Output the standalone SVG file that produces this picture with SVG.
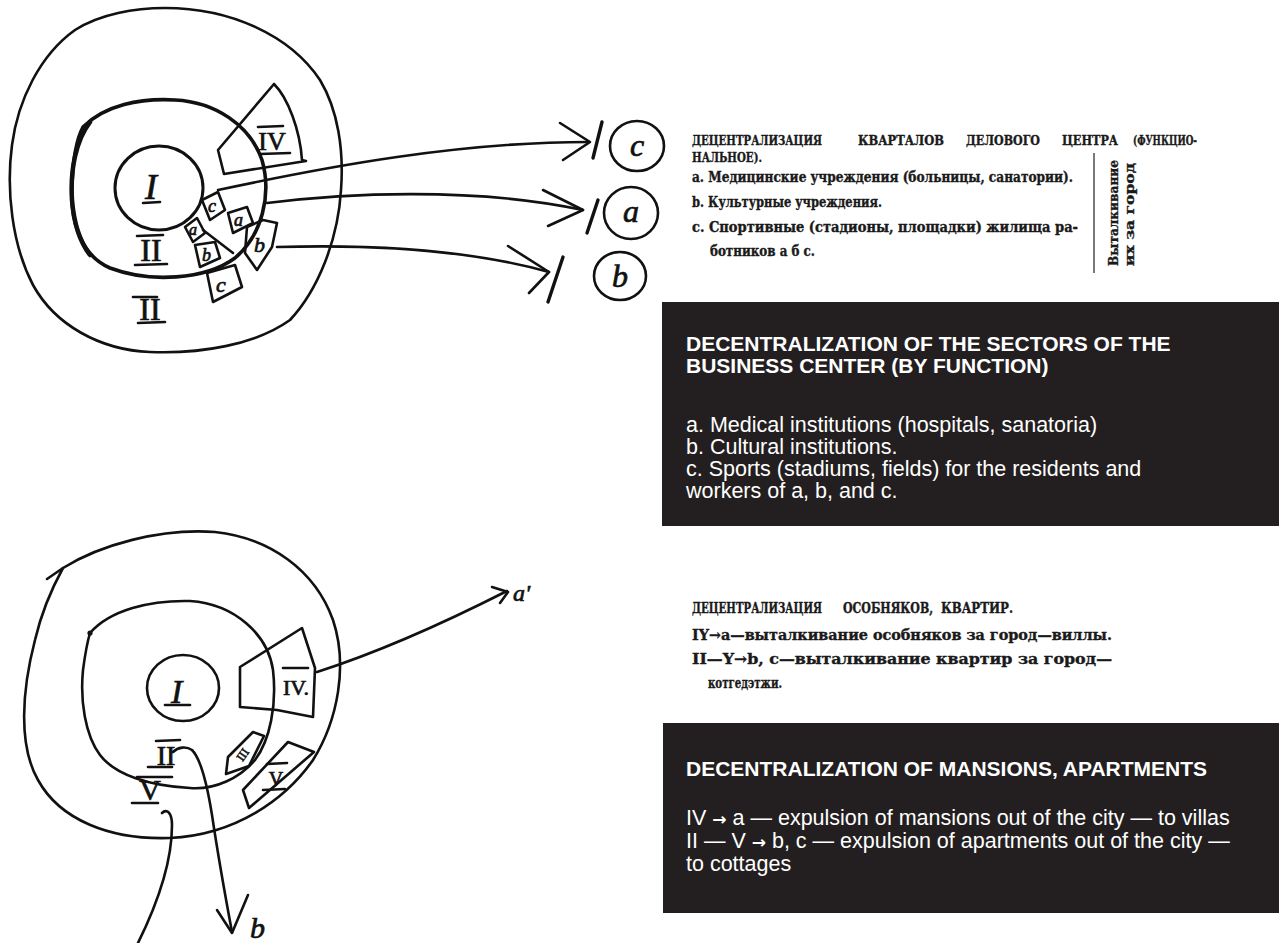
<svg xmlns="http://www.w3.org/2000/svg" width="1279" height="943" viewBox="0 0 1279 943">
<style>
.ink{fill:none;stroke:#111;stroke-width:2.6;stroke-linecap:round;stroke-linejoin:round}
.thick{stroke-width:3.6}
.slash{stroke-width:3.4}
.hand{font-family:"Liberation Serif","DejaVu Serif",serif;font-style:italic;fill:#111;stroke:#111;stroke-width:0.7}
.num{font-family:"Liberation Serif","DejaVu Serif",serif;fill:#111;text-anchor:middle;stroke:#111;stroke-width:0.7}
.ru{font-family:"DejaVu Serif","Liberation Serif",serif;font-stretch:condensed;font-weight:bold;fill:#1a1a1a;stroke:#1a1a1a;stroke-width:0.35}
.panel{fill:#231f20}
.en{font-family:"Liberation Sans",Arial,sans-serif;fill:#fff;font-size:21.5px}
.enb{font-weight:bold;font-size:21px}
.arr{font-family:"DejaVu Sans",sans-serif;font-weight:bold;font-size:17px}
</style>
<rect width="1279" height="943" fill="#fff"/>

<g id="top-diagram">
  <path class="ink" d="M165,8 C230,8 290,35 320,80 C338,110 344,150 341,190 C338,240 318,290 290,320 C255,345 200,354 150,352 C100,350 55,325 33,285 C12,245 6,190 12,145 C18,100 40,55 75,30 C100,14 135,8 165,8 Z"/>
  <path class="ink thick" d="M83,127 C105,105 140,98 175,100 C215,102 250,125 262,160 C272,195 262,235 235,258 C205,280 150,283 110,268 C80,255 70,220 72,185 C73,160 76,140 83,127"/>
  <path class="ink" style="stroke-width:4.5" d="M90,122 C76,140 70,170 72,200 C74,225 80,242 90,255"/>
  <ellipse class="ink" style="stroke-width:3" cx="159" cy="188" rx="44" ry="42"/>
  <line class="ink" x1="203" y1="230" x2="233" y2="253"/>
</g>

<g id="top-labels">
  <text class="hand" x="145" y="199" font-size="36">I</text>
  <line class="ink" x1="143" y1="203" x2="160" y2="202"/>
  <text class="num" x="151" y="261" font-size="32">II</text>
  <line class="ink" x1="137" y1="236" x2="163" y2="235"/>
  <line class="ink" x1="135" y1="265" x2="167" y2="264"/>
  <text class="num" x="150" y="320" font-size="32">II</text>
  <line class="ink" x1="133" y1="297" x2="157" y2="297"/>
  <line class="ink" x1="138" y1="323" x2="165" y2="322"/>
</g>

<g id="box-IV-top">
  <path class="ink" d="M218,150 L274,84 C288,98 300,130 302,160 L306,161 L224,174 Z"/>
  <text class="num" x="272" y="150" font-size="26">IV</text>
  <line class="ink" x1="258" y1="127" x2="283" y2="126"/>
  <line class="ink" x1="260" y1="154" x2="290" y2="153"/>
</g>
<g id="box-a1">
  <polygon class="ink" points="185,227 197,218 205,233 193,242"/>
  <text class="hand" x="189" y="235" font-size="16">a</text>
</g>
<g id="box-c1">
  <polygon class="ink" points="202,200 218,192 225,210 210,220"/>
  <text class="hand" x="208" y="212" font-size="18">c</text>
</g>
<g id="box-a2">
  <polygon class="ink" points="228,213 247,207 253,223 233,233"/>
  <text class="hand" x="234" y="226" font-size="18">a</text>
</g>
<g id="box-b1">
  <polygon class="ink" points="195,245 215,242 220,258 200,267"/>
  <text class="hand" x="202" y="261" font-size="18">b</text>
</g>
<g id="box-b2">
  <polygon class="ink" points="247,227 263,220 277,223 272,247 257,270 245,253"/>
  <text class="hand" x="254" y="252" font-size="22">b</text>
</g>
<g id="box-c2">
  <polygon class="ink" points="207,273 235,265 242,287 213,302"/>
  <text class="hand" x="216" y="292" font-size="22">c</text>
</g>

<g id="target-c">
  <ellipse class="ink" cx="637" cy="146" rx="27" ry="25"/>
  <text class="hand" x="637" y="156" font-size="32" text-anchor="middle">c</text>
</g>
<g id="target-a">
  <ellipse class="ink" cx="631" cy="213" rx="27" ry="26"/>
  <text class="hand" x="631" y="222" font-size="32" text-anchor="middle">a</text>
</g>
<g id="target-b">
  <ellipse class="ink" cx="620" cy="276" rx="26" ry="24"/>
  <text class="hand" x="620" y="287" font-size="32" text-anchor="middle">b</text>
</g>

<g id="connectors-top">
  <path class="ink" d="M218,190 C330,166 460,142 588,142"/>
  <polyline class="ink" points="560,123 590,142 563,160"/>
  <line class="ink slash" x1="602" y1="122" x2="593" y2="158"/>
  <path class="ink" d="M267,203 C340,194 470,186 583,210"/>
  <polyline class="ink" points="543,190 583,210 548,226"/>
  <line class="ink slash" x1="598" y1="200" x2="587" y2="233"/>
  <path class="ink" d="M277,247 C380,244 470,250 549,272"/>
  <polyline class="ink" points="508,246 549,272 529,293"/>
  <line class="ink slash" x1="563" y1="257" x2="548" y2="302"/>
</g>

<g id="ru-text-1">
  <text class="ru" y="145" font-size="13.5">
    <tspan x="692" textLength="130" lengthAdjust="spacingAndGlyphs">ДЕЦЕНТРАЛИЗАЦИЯ</tspan>
    <tspan x="858" textLength="86" lengthAdjust="spacingAndGlyphs">КВАРТАЛОВ</tspan>
    <tspan x="966" textLength="74" lengthAdjust="spacingAndGlyphs">ДЕЛОВОГО</tspan>
    <tspan x="1062" textLength="56" lengthAdjust="spacingAndGlyphs">ЦЕНТРА</tspan>
    <tspan x="1133" textLength="64" lengthAdjust="spacingAndGlyphs">(ФУНКЦИО-</tspan>
  </text>
  <text class="ru" x="692" y="162" font-size="13.5" textLength="70" lengthAdjust="spacingAndGlyphs">НАЛЬНОЕ).</text>
  <text class="ru" x="692" y="182" font-size="14.5" textLength="381" lengthAdjust="spacingAndGlyphs">a. Медицинские учреждения (больницы, санатории).</text>
  <text class="ru" x="692" y="207" font-size="14.5" textLength="190" lengthAdjust="spacingAndGlyphs">b. Культурные учреждения.</text>
  <text class="ru" x="692" y="232" font-size="14.5" textLength="386" lengthAdjust="spacingAndGlyphs">c. Спортивные (стадионы, площадки)  жилища  ра-</text>
  <text class="ru" x="710" y="256" font-size="14.5" textLength="105" lengthAdjust="spacingAndGlyphs">ботников а б с.</text>
  <line x1="1094" y1="153" x2="1094" y2="273" stroke="#333" stroke-width="1.3"/>
  <text class="ru" transform="translate(1118,266) rotate(-90)" font-size="13.5" textLength="106" lengthAdjust="spacingAndGlyphs">Выталкивание</text>
  <text class="ru" transform="translate(1134,266) rotate(-90)" font-size="13.5" textLength="103" lengthAdjust="spacingAndGlyphs">их  за  город</text>
</g>

<g id="panel-1">
  <rect class="panel" x="662" y="302" width="617" height="224"/>
  <text class="en enb" x="686" y="351">DECENTRALIZATION OF THE SECTORS OF THE</text>
  <text class="en enb" x="686" y="373">BUSINESS CENTER (BY FUNCTION)</text>
  <text class="en" x="686" y="432">a. Medical institutions (hospitals, sanatoria)</text>
  <text class="en" x="686" y="454">b. Cultural institutions.</text>
  <text class="en" x="686" y="476">c. Sports (stadiums, fields) for the residents and</text>
  <text class="en" x="686" y="498">workers of a, b, and c.</text>
</g>

<g id="bottom-diagram">
  <path class="ink" d="M47,579 L63,568"/>
  <path class="ink" d="M63,568 C100,545 160,528 215,532 C270,538 315,570 333,620 C348,665 338,720 313,760 C285,800 235,835 170,838 C110,840 60,820 38,780 C18,745 22,690 35,640 C42,610 52,588 63,568"/>
  <path class="ink" d="M90,633 C110,610 150,600 190,601 C235,604 268,635 273,670 C277,705 270,740 255,760 C240,778 215,790 190,788 C150,786 115,775 100,755 C85,735 80,700 83,670 C85,655 87,643 90,633"/>
  <circle cx="90" cy="633" r="2.6" fill="#111"/>
  <ellipse class="ink" cx="183" cy="688" rx="36" ry="33"/>
</g>

<g id="bottom-labels">
  <text class="hand" x="171" y="703" font-size="34">I</text>
  <line class="ink" x1="165" y1="705" x2="190" y2="705"/>
  <text class="num" x="166" y="765" font-size="28">II</text>
  <line class="ink" x1="156" y1="741" x2="180" y2="740"/>
  <line class="ink" x1="148" y1="767" x2="172" y2="767"/>
  <text class="num" x="150" y="800" font-size="30">V</text>
  <line class="ink" x1="137" y1="777" x2="172" y2="777"/>
  <line class="ink" x1="132" y1="803" x2="158" y2="803"/>
</g>

<g id="box-IV-bottom">
  <polygon class="ink" points="240,667 302,628 315,668 313,717 277,710 240,707"/>
  <text class="num" x="296" y="695" font-size="22">IV.</text>
  <line class="ink" x1="283" y1="668" x2="308" y2="668"/>
</g>
<g id="box-III">
  <polygon class="ink" points="228,757 253,732 264,736 249,766 226,774"/>
  <text class="num" transform="translate(246,757) rotate(-55)" font-size="12">III</text>
</g>
<g id="box-V">
  <polygon class="ink" points="243,790 288,742 314,752 249,808"/>
  <text class="num" x="276" y="786" font-size="20">V</text>
  <line class="ink" x1="267" y1="764" x2="287" y2="763"/>
  <line class="ink" x1="263" y1="790" x2="285" y2="789"/>
</g>

<g id="connectors-bottom">
  <path class="ink" d="M317,672 C370,655 440,625 507,591"/>
  <polyline class="ink" points="492,587 508,592 500,603"/>
  <path class="ink" d="M173,752 C178,747 186,746 192,750 C202,760 208,790 212,815 C218,855 226,900 232,932"/>
  <polyline class="ink" points="217,910 232,933 248,895"/>
  <path class="ink" d="M162,813 C167,808 172,813 172,825 C172,855 162,895 137,945"/>
</g>
<g id="target-a-prime">
  <text class="hand" x="513" y="601" font-size="24">a'</text>
</g>
<g id="target-b-bottom">
  <text class="hand" x="250" y="938" font-size="30">b</text>
</g>

<g id="ru-text-2">
  <text class="ru" y="613" font-size="14">
    <tspan x="692" textLength="130" lengthAdjust="spacingAndGlyphs">ДЕЦЕНТРАЛИЗАЦИЯ</tspan>
    <tspan x="843" textLength="90" lengthAdjust="spacingAndGlyphs">ОСОБНЯКОВ,</tspan>
    <tspan x="941" textLength="72" lengthAdjust="spacingAndGlyphs">КВАРТИР.</tspan>
  </text>
  <text class="ru" x="692" y="640" font-size="14.5" textLength="420" lengthAdjust="spacingAndGlyphs">IY→a—выталкивание особняков за город—виллы.</text>
  <text class="ru" x="692" y="664" font-size="14.5" textLength="420" lengthAdjust="spacingAndGlyphs">II—Y→b, c—выталкивание  квартир  за  город—</text>
  <text class="ru" x="708" y="688" font-size="14.5" textLength="74" lengthAdjust="spacingAndGlyphs">котгедэтжи.</text>
</g>

<g id="panel-2">
  <rect class="panel" x="663" y="723" width="616" height="190"/>
  <text class="en enb" x="686" y="776">DECENTRALIZATION OF MANSIONS, APARTMENTS</text>
  <text class="en" x="686" y="825">IV <tspan class="arr">→</tspan> a — expulsion of mansions out of the city — to villas</text>
  <text class="en" x="686" y="848">II — V <tspan class="arr">→</tspan> b, c — expulsion of apartments out of the city —</text>
  <text class="en" x="686" y="871">to cottages</text>
</g>
</svg>
